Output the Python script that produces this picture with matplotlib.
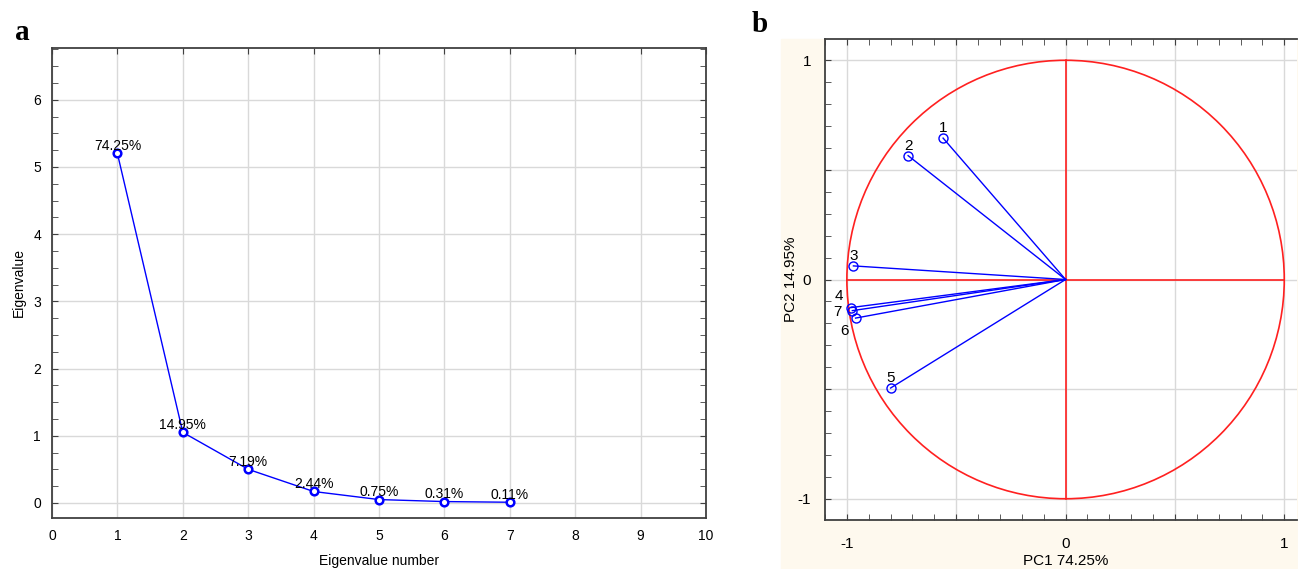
import numpy as np
import matplotlib.pyplot as plt
from matplotlib.patches import Rectangle, Circle
from matplotlib.ticker import MultipleLocator

plt.rcParams['font.family'] = ['Liberation Sans', 'DejaVu Sans']

# %%
# data
eig_num = [1, 2, 3, 4, 5, 6, 7]
eig_val = [5.20, 1.05, 0.50, 0.17, 0.05, 0.02, 0.01]
eig_pct = ['74.25%', '14.95%', '7.19%', '2.44%', '0.75%', '0.31%', '0.11%']

var_ids = ['1', '2', '3', '4', '5', '6', '7']
pc1 = [-0.56, -0.72, -0.97, -0.98, -0.80, -0.96, -0.975]
pc2 = [0.645, 0.565, 0.062, -0.128, -0.495, -0.176, -0.142]

# label offsets (points) for the loading plot
lab_off = {'1': (0, 2), '2': (0, 2), '3': (0, 2), '5': (0, 2),
           '4': (-9, 3), '7': (-11, -6), '6': (-8, -14)}

grid_c = '#D9D9D9'
spine_c = '#404040'
blue = '#0000FF'
red = '#FF2020'
beige = '#FEF9EE'
fs = 10
fs_b = 11

fig = plt.figure(figsize=(12.98, 5.69), dpi=100)

# %%
# panel a: scree plot
ax = fig.add_axes([52/1298, 1-517.7/569, 654/1298, 469.7/569])
ax.plot(eig_num, eig_val, '-', color=blue, lw=1, marker='o', ms=5.5,
        mfc='white', mec=blue, mew=1.8)
for xi, yi, t in zip(eig_num, eig_val, eig_pct):
    ax.annotate(t, (xi, yi), xytext=(0, 0.5), textcoords='offset points',
                ha='center', va='bottom', fontsize=fs)
ax.set_xlim(0, 10)
ax.set_ylim(-0.22, 6.77)
ax.set_xticks(range(0, 11))
ax.set_yticks(range(0, 7))
ax.yaxis.set_minor_locator(MultipleLocator(0.25))
ax.grid(color=grid_c, lw=1)
ax.set_axisbelow(True)
ax.tick_params(axis='x', which='both', bottom=False, top=True, direction='in',
               length=4, labelsize=fs, pad=8, color=spine_c)
ax.tick_params(axis='y', which='both', left=True, right=True, direction='in',
               length=4, labelsize=fs, pad=8, color=spine_c)
for s in ax.spines.values():
    s.set_color(spine_c)
    s.set_linewidth(1.3)
ax.set_xlabel('Eigenvalue number', fontsize=fs, labelpad=8)
ax.set_ylabel('Eigenvalue', fontsize=fs, labelpad=5)
fig.text(15/1298, 1-40/569, 'a', fontsize=21, fontweight='bold',
         family='Liberation Serif')

# %%
# panel b: loading circle
bg = Rectangle((781/1298, 0), 1 - 781/1298, 1 - 39/569,
               transform=fig.transFigure, color=beige, zorder=-10)
fig.add_artist(bg)
xmin, xmax = -1.1, 1.06
ymin, ymax = -1.097, 1.097
bx = fig.add_axes([825/1298, 1-520/569, (xmax-xmin)*218.7/1298, 481/569])
bx.set_facecolor('white')
bx.set_xlim(xmin, xmax)
bx.set_ylim(ymin, ymax)
bx.add_patch(Circle((0, 0), 1, fill=False, ec=red, lw=1.2))
bx.plot([0, 0], [-1, 1], color=red, lw=1.2)
bx.plot([-1, 1], [0, 0], color=red, lw=1.2)
for xi, yi, t in zip(pc1, pc2, var_ids):
    bx.plot([0, xi], [0, yi], color=blue, lw=1)
    bx.plot(xi, yi, 'o', ms=6.5, mfc='none', mec=blue, mew=1)
    bx.annotate(t, (xi, yi), xytext=lab_off[t], textcoords='offset points',
                ha='center', va='bottom', fontsize=fs_b)
ticks = np.arange(-1, 1.01, 0.5)
bx.set_xticks(ticks)
bx.set_xticklabels(['-1', '', '0', '', '1'])
bx.set_yticks(ticks)
bx.set_yticklabels(['-1', '', '0', '', '1'])
bx.xaxis.set_minor_locator(MultipleLocator(0.1))
bx.yaxis.set_minor_locator(MultipleLocator(0.1))
bx.grid(color=grid_c, lw=1)
bx.set_axisbelow(True)
bx.tick_params(axis='x', which='both', bottom=True, top=True, direction='in',
               length=4, labelsize=fs_b, pad=12, color=spine_c)
bx.tick_params(axis='y', which='both', left=True, right=False, direction='in',
               length=4, labelsize=fs_b, pad=10, color=spine_c)
for s in bx.spines.values():
    s.set_color(spine_c)
    s.set_linewidth(1.3)
bx.spines['right'].set_visible(False)
bx.set_xlabel('PC1 74.25%', fontsize=fs_b)
bx.xaxis.set_label_coords((0 - xmin)/(xmax - xmin), -0.07)
bx.set_ylabel('PC2 14.95%', fontsize=fs_b)
bx.yaxis.set_label_coords(-0.058, (0 - ymin)/(ymax - ymin))
fig.text(752/1298, 1-32/569, 'b', fontsize=21, fontweight='bold',
         family='Liberation Serif')

plt.savefig('out.png', dpi=100)
